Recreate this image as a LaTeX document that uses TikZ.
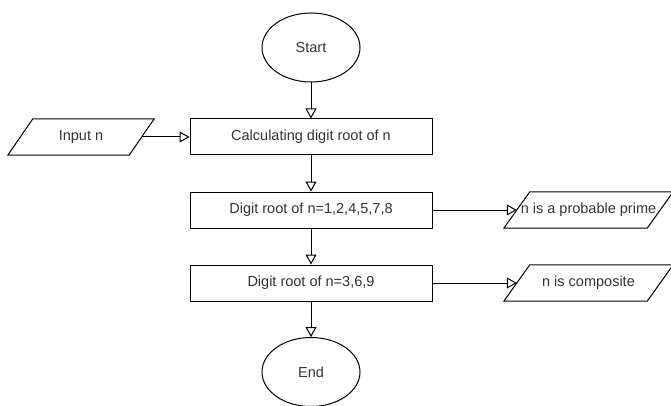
\documentclass[tikz,border=0pt]{standalone}
\usepackage{fontspec}
\setmainfont{Liberation Sans}
\usetikzlibrary{arrows.meta,shapes.geometric}
\begin{document}
\begin{tikzpicture}[x=1pt,y=-1pt,
  every node/.style={font=\fontsize{14.5}{17}\selectfont, text=black!80},
  terminal/.style={draw, ellipse, line width=1pt, minimum width=98pt, minimum height=69pt, inner sep=0pt},
  process/.style={draw, rectangle, line width=1pt, minimum width=242pt, minimum height=36pt, inner sep=0pt},
  iobox/.style={rectangle, minimum height=36pt, minimum width=#1, inner sep=0pt},
  flow/.style={-{Triangle[open,length=10pt,width=11pt]}, line width=1pt}
]
\useasboundingbox (0,0) rectangle (671,406);

% main column
\node[terminal] (start) at (311,47.5) {Start};
\node[process] (calc) at (311,137) {Calculating digit root of n};
\node[process] (d1) at (311,210) {Digit root of n=1,2,4,5,7,8};
\node[process] (d2) at (311,283) {Digit root of n=3,6,9};
\node[terminal] (end) at (311,372) {End};

% input / output boxes (text nodes, outlines drawn below)
\node[iobox=121pt] (in) at (81,137) {Input n};
\node[iobox=143pt] (pp) at (588.5,210) {n is a probable prime};
\node[iobox=143pt] (comp) at (588.5,283) {n is composite};

% parallelogram outlines around the input / output text
\foreach \n/\h in {in/12.5, pp/13, comp/13}
  \draw[line width=1pt]
    ([xshift=-\h pt]\n.south west) -- ([xshift=\h pt]\n.north west) --
    ([xshift=\h pt]\n.north east) -- ([xshift=-\h pt]\n.south east) -- cycle;

% connectors
\draw[flow] (start) -- (calc);
\draw[flow] (in) -- (calc);
\draw[flow] (calc) -- (d1);
\draw[flow] (d1) -- (d2);
\draw[flow] (d2) -- (end);
\draw[flow] (d1) -- (pp);
\draw[flow] (d2) -- (comp);
\end{tikzpicture}
\end{document}
